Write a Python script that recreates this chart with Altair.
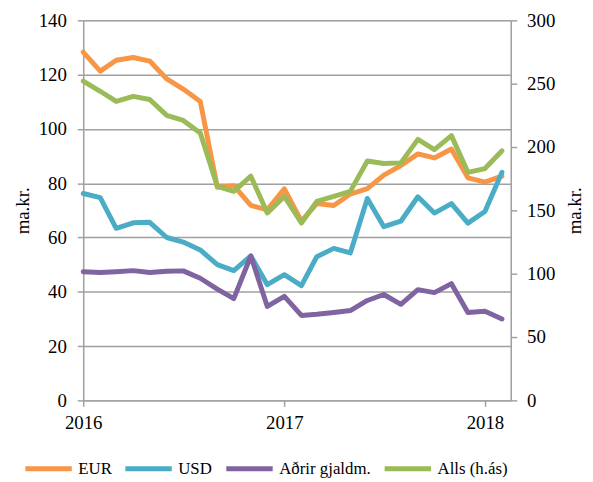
import altair as alt
import pandas as pd

months = [f"{y}-{m:02d}-01T00:00:00" for y in (2016, 2017, 2018) for m in range(1, 13)][:26]

series_names = ["EUR", "USD", "Aðrir gjaldm.", "Alls (h.ás)"]
series_colors = ["#F79646", "#4BACC6", "#8064A2", "#9BBB59"]

eur = [128.3, 121.3, 125.3, 126.3, 125.0, 118.4, 114.7, 110.1, 78.5, 79.1, 71.8, 70.2,
       77.9, 66.0, 72.5, 71.8, 76.0, 78.0, 83.0, 86.5, 90.8, 89.3, 92.6, 82.0, 80.4, 82.6]
usd = [76.2, 74.7, 63.4, 65.4, 65.6, 60.0, 58.3, 55.4, 50.0, 47.8, 53.2, 42.6,
       46.3, 42.3, 52.9, 56.0, 54.3, 74.4, 64.0, 66.0, 75.0, 69.0, 72.5, 65.3, 69.6, 84.0]
adrir = [47.4, 47.1, 47.4, 47.8, 47.1, 47.6, 47.7, 45.0, 41.0, 37.5, 53.2, 34.6,
         38.3, 31.3, 31.7, 32.4, 33.1, 36.8, 39.0, 35.4, 40.8, 39.7, 43.0, 32.4, 32.8, 30.0]
alls = [252, 244, 236, 240, 237.5, 225, 221, 211, 169, 165, 177, 148,
        161, 140, 157, 161, 165, 189, 187, 187.5, 206, 198, 209, 180, 183, 197]

rows = []
for name, vals in zip(series_names, [eur, usd, adrir, alls]):
    for d, v in zip(months, vals):
        rows.append({"date": d, "series": name, "value": v})
df = pd.DataFrame(rows)

FONT = "Liberation Serif"
GRID = "#A0A0A0"

x_enc = alt.X(
    "date:T",
    title=None,
    scale=alt.Scale(domain=[alt.DateTime(year=2016, month=1, date=1),
                            alt.DateTime(year=2018, month=2, date=17)]),
    axis=alt.Axis(
        values=[alt.DateTime(year=2016, month=1, date=1),
                alt.DateTime(year=2017, month=1, date=1),
                alt.DateTime(year=2018, month=1, date=1)],
        format="%Y", grid=False, tickSize=6, labelPadding=7,
        labelFlush=False, labelAlign="center",
        domainColor=GRID, tickColor=GRID, domainWidth=1.5, tickWidth=1.5,
        labelFont=FONT, labelFontSize=19, labelColor="#000000",
    ),
)

color_enc = alt.Color(
    "series:N",
    scale=alt.Scale(domain=series_names, range=series_colors),
    sort=series_names,
    legend=alt.Legend(
        title=None, orient="none", direction="horizontal",
        legendX=-61, legendY=427,
        symbolType="stroke", symbolSize=2200, symbolStrokeWidth=5,
        labelFont=FONT, labelFontSize=17, labelColor="#000000",
        columnPadding=3, labelOffset=4,
    ),
)

left = alt.Chart(df).transform_filter(
    alt.datum.series != "Alls (h.ás)"
).mark_line(strokeWidth=5, strokeCap="round", strokeJoin="round").encode(
    x=x_enc,
    y=alt.Y(
        "value:Q",
        scale=alt.Scale(domain=[0, 140], nice=False),
        axis=alt.Axis(
            orient="left", title="ma.kr.", values=list(range(0, 141, 20)),
            grid=True, gridColor=GRID, gridWidth=1.5,
            domainColor=GRID, tickColor=GRID, domainWidth=1.5, tickWidth=1.5,
            tickSize=6, labelPadding=11,
            labelFont=FONT, labelFontSize=19, labelColor="#000000",
            titleFont=FONT, titleFontSize=19, titleFontWeight="normal", titleColor="#000000",
            titleAngle=270, titleBaseline="middle", titleAlign="center",
            titleX=-61, titleY=192,
        ),
    ),
    color=color_enc,
)

right = alt.Chart(df).transform_filter(
    alt.datum.series == "Alls (h.ás)"
).mark_line(strokeWidth=5, strokeCap="round", strokeJoin="round").encode(
    x=x_enc,
    y=alt.Y(
        "value:Q",
        scale=alt.Scale(domain=[0, 300], nice=False),
        axis=alt.Axis(
            orient="right", title="ma.kr.", values=list(range(0, 301, 50)),
            grid=False,
            domainColor=GRID, tickColor=GRID, domainWidth=1.5, tickWidth=1.5,
            tickSize=6, labelPadding=10,
            labelFont=FONT, labelFontSize=19, labelColor="#000000",
            titleFont=FONT, titleFontSize=19, titleFontWeight="normal", titleColor="#000000",
            titleAngle=270, titleBaseline="middle", titleAlign="center",
            titleX=64, titleY=192,
        ),
    ),
    color=color_enc,
)

chart = alt.layer(left, right).resolve_scale(y="independent").properties(
    width=432, height=384,
    autosize=alt.AutoSizeParams(type="none"),
    padding={"left": 76, "top": 10, "right": 75, "bottom": 80},
).configure_view(stroke=None).configure(background="white")

chart.save("out.html", embed_options={"renderer": "svg", "actions": False})
